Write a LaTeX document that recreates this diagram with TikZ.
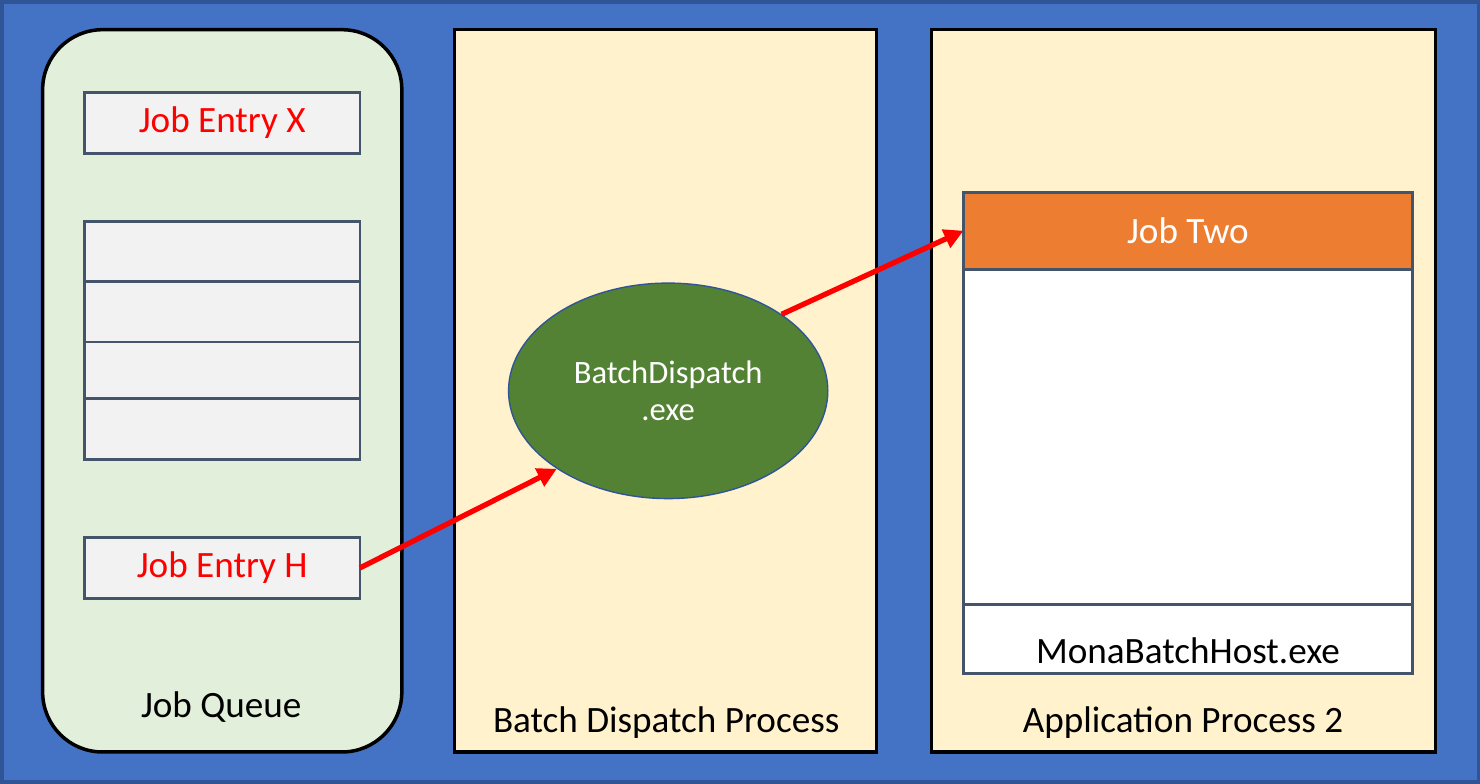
\documentclass[tikz,border=0pt]{standalone}
\usepackage{fontspec}
\setmainfont{Carlito}
\usepackage{tikz}
\usetikzlibrary{arrows.meta,positioning,shapes.geometric}
\definecolor{bgblue}{RGB}{68,114,196}
\definecolor{edgeblue}{RGB}{47,85,151}
\definecolor{boxedge}{RGB}{68,84,106}
\definecolor{queuegreen}{RGB}{226,239,218}
\definecolor{procyellow}{RGB}{255,242,204}
\definecolor{entrygray}{RGB}{242,242,242}
\definecolor{exegreen}{RGB}{84,130,53}
\definecolor{joborange}{RGB}{237,125,49}

\tikzset{
  entrybox/.style={draw=boxedge, fill=entrygray, line width=0.8pt, minimum width=2.76cm, inner sep=0pt, outer sep=0pt},
  panelbox/.style={draw=black, fill=procyellow, line width=1pt},
  flowarrow/.style={-{Triangle[length=5.5pt,width=5.5pt]}, red, line width=1.5pt}
}

\begin{document}
\begin{tikzpicture}[font=\fontsize{10.6}{12}\selectfont]
% Background
\fill[bgblue, draw=edgeblue, line width=1pt] (0,0) rectangle (14.8,7.82);
\useasboundingbox (0,0) rectangle (14.8,7.82);
% Job queue
\draw[fill=queuegreen, line width=1pt, rounded corners=0.6cm] (0.41,0.30) rectangle (4.01,7.54);
\node[entrybox, minimum height=0.61cm, text=red] (jobx) at (2.21,6.605) {Job Entry X};
\node[entrybox, minimum height=0.60cm] (slota) at (2.21,5.32) {};
\node[entrybox, minimum height=0.61cm, below=0pt of slota] (slotb) {};
\node[entrybox, minimum height=0.57cm, below=0pt of slotb] (slotc) {};
\node[entrybox, minimum height=0.61cm, below=0pt of slotc] (slotd) {};
\node[entrybox, minimum height=0.61cm, text=red] (jobh) at (2.21,2.145) {Job Entry H};
\node (queuelabel) at (2.20,0.75) {Job Queue};
% Batch dispatch process
\draw[panelbox] (4.54,0.30) rectangle (8.77,7.54);
\node[ellipse, draw=edgeblue, fill=exegreen, minimum width=3.2cm, minimum height=2.16cm, inner sep=0pt,
  text=white, align=center, font=\fontsize{9.3}{10.8}\selectfont] (dispatch) at (6.68,3.92) {BatchDispatch\\.exe};
\node (dispatchlabel) at (6.66,0.59) {Batch Dispatch Process};
% Application process 2
\draw[panelbox] (9.32,0.30) rectangle (14.37,7.54);
\draw[draw=boxedge, fill=white, line width=0.8pt] (9.64,1.09) rectangle (14.14,5.91);
\node[draw=boxedge, fill=joborange, line width=0.8pt, minimum width=4.5cm, minimum height=0.77cm,
  inner sep=0pt, outer sep=0pt, text=white] (jobtwo) at (11.89,5.525) {Job Two};
\draw[boxedge, line width=0.8pt] (9.64,1.78) -- (14.14,1.78);
\node (hostlabel) at (11.89,1.31) {MonaBatchHost.exe};
\node (applabel) at (11.84,0.59) {Application Process 2};
% Arrows
\draw[flowarrow] (jobh.east) -- (dispatch.215);
\draw[flowarrow] (dispatch.34) -- (jobtwo.west);
\end{tikzpicture}
\end{document}
